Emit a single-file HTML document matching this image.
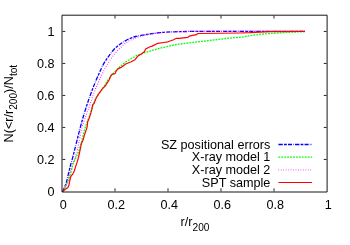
<!DOCTYPE html>
<html>
<head>
<meta charset="utf-8">
<title>N(&lt;r/r200)/Ntot</title>
<style>
html,body{margin:0;padding:0;background:#fff;}
body{width:350px;height:245px;overflow:hidden;}
svg{display:block;will-change:transform;}
text{font-family:"Liberation Sans",sans-serif;font-size:12.64px;fill:#000;}
.sub{font-size:10.1px;}
</style>
</head>
<body>
<svg width="350" height="245" viewBox="0 0 350 245">
<rect x="0" y="0" width="350" height="245" fill="#fff"/>

<!-- curves -->
<g fill="none" stroke-linejoin="round" transform="translate(0,0.4)">
<!-- blue: SZ positional errors -->
<path stroke="#0000ff" stroke-width="1.3" stroke-dasharray="4.4 1.2 2.8 1.2 4 1.2 0.6 1.2"
 d="M62.50,191.30 C63.57,188.90 64.80,186.56 65.70,184.10 C67.04,180.43 67.65,176.51 68.60,172.70 C69.31,169.84 69.93,166.95 70.70,164.10 C71.29,161.89 72.00,159.71 72.60,157.50 C73.46,154.35 74.20,151.17 75.00,148.00 C75.67,145.33 76.33,142.67 77.00,140.00 C78.38,134.53 79.70,129.04 81.20,123.60 C82.82,117.73 84.52,111.89 86.40,106.10 C88.31,100.22 90.37,94.37 92.60,88.60 C94.69,83.21 96.87,77.85 99.30,72.60 C101.09,68.72 102.76,64.73 105.00,61.10 C106.70,58.35 108.74,55.79 110.70,53.20 C111.88,51.65 112.98,50.01 114.30,48.60 C116.36,46.40 118.91,44.62 121.40,42.90 C123.69,41.31 126.08,39.77 128.60,38.60 C130.87,37.55 133.28,36.75 135.70,36.10 C138.05,35.46 140.49,35.12 142.90,34.70 C145.26,34.29 147.63,33.95 150.00,33.60 C153.10,33.14 156.19,32.61 159.30,32.30 C161.66,32.06 164.03,31.95 166.40,31.80 C168.80,31.65 171.20,31.51 173.60,31.40 C180.73,31.07 187.87,31.10 195.00,31.00 C210.00,30.80 225.00,30.92 240.00,30.90 C261.67,30.87 283.33,30.90 305.00,30.90"/>
<!-- green: X-ray model 1 -->
<path stroke="#00ff00" stroke-width="1.3" stroke-dasharray="1.8 1.13"
 d="M62.50,191.30 C63.83,188.87 65.32,186.50 66.50,184.00 C68.21,180.38 69.42,176.51 70.70,172.70 C72.04,168.71 72.46,164.37 74.30,160.60 C74.73,159.72 75.25,158.87 75.70,158.00 C81.17,147.48 82.22,135.14 86.30,124.00 C87.27,121.36 88.36,118.75 89.30,116.10 C90.30,113.29 91.13,110.42 92.10,107.60 C92.59,106.16 93.06,104.72 93.60,103.30 C94.43,101.13 95.26,98.92 96.40,96.90 C97.25,95.40 98.28,93.99 99.30,92.60 C100.31,91.23 101.49,89.98 102.50,88.60 C104.55,85.81 105.90,82.53 107.90,79.70 C109.65,77.23 111.57,74.85 113.60,72.60 C115.40,70.61 117.32,68.71 119.30,66.90 C121.56,64.85 123.87,62.80 126.40,61.10 C127.34,60.47 128.32,59.88 129.30,59.30 C131.30,58.10 133.31,56.91 135.40,55.90 C137.82,54.73 140.36,53.79 142.90,52.90 C145.23,52.08 147.63,51.43 150.00,50.70 C153.10,49.75 156.16,48.68 159.30,47.90 C161.65,47.32 164.04,46.94 166.40,46.40 C168.81,45.84 171.17,45.07 173.60,44.60 C175.94,44.15 178.33,43.93 180.70,43.60 C183.10,43.26 185.50,42.92 187.90,42.60 C190.26,42.29 192.63,41.98 195.00,41.70 C198.10,41.33 201.20,41.05 204.30,40.70 C209.07,40.17 213.83,39.55 218.60,39.00 C223.36,38.45 228.12,37.80 232.90,37.40 C235.26,37.20 237.64,37.16 240.00,36.90 C243.12,36.56 246.19,35.86 249.30,35.40 C254.05,34.70 258.82,34.07 263.60,33.60 C268.35,33.14 273.13,32.93 277.90,32.60 C280.27,32.43 282.63,32.25 285.00,32.10 C291.66,31.68 298.33,31.57 305.00,31.30"/>
<!-- magenta: X-ray model 2 -->
<path stroke="#ff00ff" stroke-width="1.2" stroke-dasharray="0.7 1.76"
 d="M62.50,191.30 C63.83,188.87 65.42,186.53 66.50,184.00 C68.03,180.43 68.49,176.44 69.60,172.70 C70.45,169.82 71.25,166.91 72.30,164.10 C73.03,162.14 73.95,160.25 74.70,158.30 C78.93,147.35 79.37,135.20 82.90,124.00 C84.80,117.96 87.18,112.07 89.30,106.10 C91.37,100.27 93.17,94.33 95.50,88.60 C97.11,84.65 98.89,80.76 100.70,76.90 C102.52,73.03 104.23,69.08 106.40,65.40 C107.73,63.14 109.21,60.96 110.70,58.80 C111.87,57.11 113.02,55.40 114.30,53.80 C116.44,51.14 118.87,48.68 121.40,46.40 C123.67,44.35 125.98,42.23 128.60,40.70 C130.81,39.41 133.29,38.51 135.70,37.60 C138.06,36.71 140.46,35.92 142.90,35.30 C145.23,34.70 147.63,34.32 150.00,33.90 C153.32,33.31 156.65,32.77 160.00,32.40 C163.32,32.04 166.66,31.89 170.00,31.70 C178.32,31.22 186.67,31.19 195.00,31.00 C231.65,30.16 268.33,30.93 305.00,30.90"/>
<!-- red: SPT sample -->
<polyline stroke="#ff0000" stroke-width="1.2"
 points="62.9,191 65,189.1 67.9,187 68.9,184.9 69.7,180.6 70.7,176.3 72.9,173.4 74.3,170.6 75.3,167.2 76.9,162.5 78.6,156.8 81.4,143.2 83.1,139.6 84.3,135 87.0,127.2 87.7,121.3 89.5,117 90.9,112.5 92,108.5 92.6,104.5 94.3,102.7 95.4,99.3 97.1,95.9 99.4,92.5 100.6,91.0 102.9,87.6 105.1,85.9 106.9,83 109.1,79.6 110.9,75 112,73.9 114.9,73.3 116.6,69.9 118.3,68.2 121.1,67 123.4,65.3 125.7,63.6 127.5,62.9 130.7,61.6 135,59.3 137.9,55.7 141.4,53.6 144.3,51.4 145.7,48.6 150,46.4 152.1,45.7 157.9,42.9 163.6,42.1 167.9,41.4 173.6,39.3 176.4,37.9 179.3,37.9 187.9,36.9 189.3,35.7 195,34.5 196.4,34.3 197.9,33.1 240,32.6 250,32.3 270,31.2 305,30.9"/>
</g>

<!-- legend samples -->
<g fill="none">
<line x1="278.4" x2="312" y1="144.5" y2="144.5" stroke="#0000ff" stroke-width="1.3" stroke-dasharray="4.4 1.2 2.8 1.2 4 1.2 0.6 1.2"/>
<line x1="278.4" x2="312" y1="157.2" y2="157.2" stroke="#00ff00" stroke-width="1.3" stroke-dasharray="1.8 1.13"/>
<line x1="278.4" x2="312" y1="169.9" y2="169.9" stroke="#ff00ff" stroke-opacity="0.75" stroke-width="1.2" stroke-dasharray="0.7 1.76"/>
<line x1="278.4" x2="312" y1="182.5" y2="182.5" stroke="#ff0000" stroke-width="1.2"/>
</g>

<!-- border + ticks -->
<g fill="none" stroke="#000" stroke-width="0.92">
<path d="M62.00,15.20H327.10V192.00H62.00Z"/>
</g>
<g fill="none" stroke="#000" stroke-width="0.85">
<path d="M62.50,159.45h2.80 M62.50,127.45h2.80 M62.50,95.45h2.80 M62.50,63.45h2.80 M62.50,31.45h2.80"/>
<path d="M326.60,159.45h-2.80 M326.60,127.45h-2.80 M326.60,95.45h-2.80 M326.60,63.45h-2.80 M326.60,31.45h-2.80"/>
<path d="M115.00,191.40v-3.10 M168.00,191.40v-3.10 M221.00,191.40v-3.10 M274.00,191.40v-3.10"/>
<path d="M115.00,15.70v2.80 M168.00,15.70v2.80 M221.00,15.70v2.80 M274.00,15.70v2.80"/>
</g>

<!-- y tick labels -->
<g text-anchor="end" transform="scale(1,1.08)">
<text x="54.6" y="181.11">0</text>
<text x="54.6" y="151.48">0.2</text>
<text x="54.6" y="121.85">0.4</text>
<text x="54.6" y="92.22">0.6</text>
<text x="54.6" y="62.59">0.8</text>
<text x="54.6" y="32.96">1</text>
</g>
<!-- x tick labels -->
<g text-anchor="middle" transform="scale(1,1.08)">
<text x="63.2" y="193.70">0</text>
<text x="116.2" y="193.70">0.2</text>
<text x="169.2" y="193.70">0.4</text>
<text x="222.2" y="193.70">0.6</text>
<text x="275.2" y="193.70">0.8</text>
<text x="328.2" y="193.70">1</text>
</g>

<!-- legend text -->
<g text-anchor="end" transform="scale(1,1.08)">
<text x="270.4" y="137.69">SZ positional errors</text>
<text x="270.4" y="149.44">X-ray model 1</text>
<text x="270.4" y="161.20">X-ray model 2</text>
<text x="270.4" y="172.87">SPT sample</text>
</g>

<!-- x label -->
<text transform="translate(180.6,226) scale(1,1.08)">r/r<tspan class="sub" dy="4.4">200</tspan></text>

<!-- y label -->
<text transform="translate(13.1,142.4) rotate(-90)">N(&lt;r/r<tspan class="sub" dy="4.3">200</tspan><tspan dy="-4.3">)/N</tspan><tspan class="sub" dy="4.3">tot</tspan></text>
</svg>
</body>
</html>
